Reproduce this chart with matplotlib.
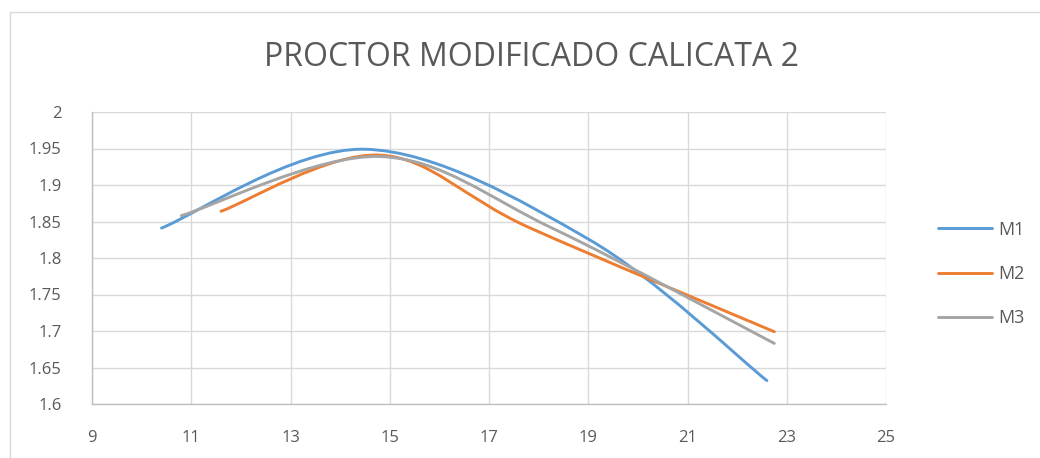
import matplotlib
matplotlib.use("Agg")
import matplotlib.pyplot as plt
from matplotlib.path import Path
from matplotlib.patches import PathPatch, Rectangle
from matplotlib.lines import Line2D

m1_x = [10.4, 14.5, 19.0, 22.6]
m1_y = [1.841, 1.949, 1.826, 1.632]
m2_x = [11.6, 14.8, 17.8, 22.75]
m2_y = [1.864, 1.941, 1.842, 1.699]
m3_x = [10.8, 14.8, 18.3, 22.75]
m3_y = [1.858, 1.939, 1.840, 1.683]

labels = ["M1", "M2", "M3"]
colors = ["#5B9BD5", "#ED7D31", "#A5A5A5"]

x_ticks = [9, 11, 13, 15, 17, 19, 21, 23, 25]
y_ticks = [1.6, 1.65, 1.7, 1.75, 1.8, 1.85, 1.9, 1.95, 2]

FONT = ["Open Sans", "DejaVu Sans"]
TXT = "#595959"


def smooth_path(xs, ys):
    # Excel-like smoothed line: cubic Bezier segments, Catmull-Rom control points
    pts = list(zip(xs, ys))
    n = len(pts)
    verts = [pts[0]]
    codes = [Path.MOVETO]
    for i in range(n - 1):
        p0 = pts[i - 1] if i > 0 else pts[i]
        p1 = pts[i]
        p2 = pts[i + 1]
        p3 = pts[i + 2] if i + 2 < n else pts[i + 1]
        c1 = (p1[0] + (p2[0] - p0[0]) / 6, p1[1] + (p2[1] - p0[1]) / 6)
        c2 = (p2[0] - (p3[0] - p1[0]) / 6, p2[1] - (p3[1] - p1[1]) / 6)
        verts += [c1, c2, p2]
        codes += [Path.CURVE4] * 3
    return Path(verts, codes)


fig = plt.figure(figsize=(10.4, 4.58), dpi=100)
fig.patches.append(Rectangle((10 / 1040, -0.1), 1.2, (458 - 12) / 458 + 0.1,
                             transform=fig.transFigure, fill=False,
                             edgecolor="#D9D9D9", linewidth=1.0))

ax = fig.add_axes([92 / 1040, (458 - 404) / 458, 794 / 1040, 292 / 458])

for xs, ys, c in zip([m1_x, m2_x, m3_x], [m1_y, m2_y, m3_y], colors):
    ax.add_patch(PathPatch(smooth_path(xs, ys), fill=False, edgecolor=c,
                           linewidth=2.1, capstyle="round", zorder=3))

ax.set_xlim(9, 25)
ax.set_ylim(1.6, 2)
ax.set_xticks(x_ticks)
ax.set_yticks(y_ticks)
ax.set_xticklabels([str(v) for v in x_ticks])
ax.set_yticklabels([f"{v:g}" for v in y_ticks])
ax.grid(True, color="#D9D9D9", linewidth=1.0)
ax.set_axisbelow(True)
ax.tick_params(length=0, labelsize=12, labelcolor=TXT)
ax.tick_params(axis="x", pad=19)
ax.tick_params(axis="y", pad=22)
for lab in ax.get_xticklabels() + ax.get_yticklabels():
    lab.set_family(FONT)
for side in ["top", "right"]:
    ax.spines[side].set_visible(False)
for side in ["left", "bottom"]:
    ax.spines[side].set_color("#BFBFBF")
    ax.spines[side].set_linewidth(1.0)

fig.text(531 / 1040, 1 - 57 / 458, "PROCTOR MODIFICADO CALICATA 2",
         ha="center", va="center", fontsize=23, color=TXT, family=FONT)

handles = [Line2D([], [], color=c, linewidth=2.1, solid_capstyle="round") for c in colors]
fig.legend(handles, labels, loc="center left", bbox_to_anchor=(922 / 1040, 1 - 274 / 458),
           frameon=False, labelcolor=TXT, handlelength=3.0,
           handletextpad=0.3, labelspacing=1.45, prop={"family": FONT, "size": 13})

fig.savefig("out.png", dpi=100, facecolor="white")
